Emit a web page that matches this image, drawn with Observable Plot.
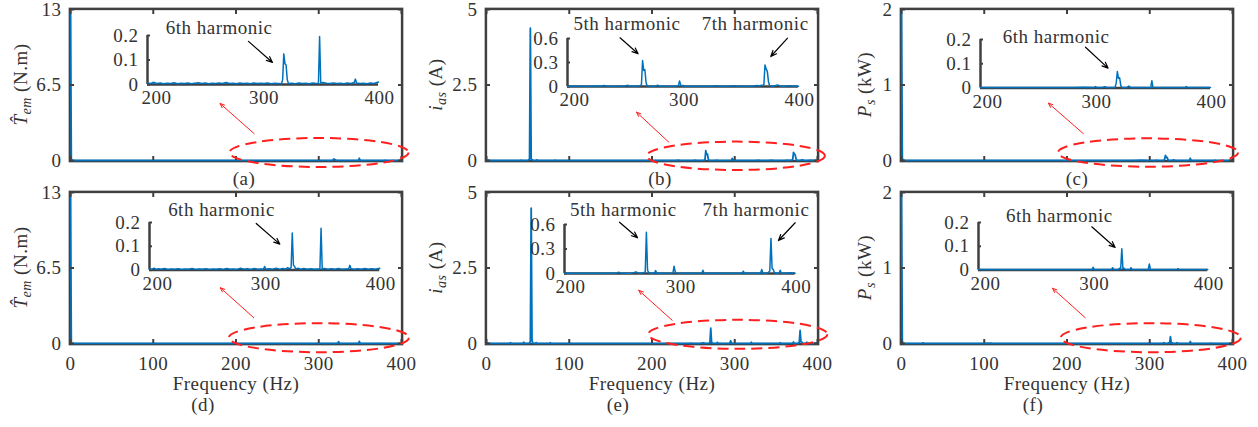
<!DOCTYPE html>
<html><head><meta charset="utf-8">
<script src="https://cdn.jsdelivr.net/npm/d3@7"></script>
<script src="https://cdn.jsdelivr.net/npm/@observablehq/plot@0.6"></script>
<style>
body{margin:0;background:#fff;}
#fig{position:relative;width:1258px;height:427px;overflow:hidden;background:#fff;}
#fig svg{position:absolute;overflow:visible;}
#fig svg, #fig svg text, #fig svg tspan{font-family:"Liberation Serif","DejaVu Serif",serif !important;letter-spacing:0.5px;}
</style></head><body><div id="fig"></div>
<script>
// ---------------- DATA ----------------
// spectra: [frequency (Hz), amplitude]
const torqueSpecA = [
[0,12.9],[1,0.05],[2,0.004],[50,0.004],[100,0.003],[150,0.004],[197,0.004],
[200,0.006],[203,0.004],[205,0.009],[208,0.004],[211,0.006],[214,0.003],[217,0.005],[220,0.004],[223,0.007],[226,0.003],[229,0.005],[232,0.004],[235,0.006],[238,0.003],[241,0.005],[244,0.007],[247,0.004],[250,0.006],[253,0.003],[256,0.005],[259,0.004],[262,0.006],[265,0.004],[268,0.008],[271,0.004],[274,0.005],[277,0.003],[280,0.006],[283,0.004],[286,0.005],[289,0.003],[292,0.006],[295,0.004],[298,0.005],[301,0.004],[304,0.006],[307,0.003],[310,0.005],[313,0.004],[316,0.003],[317,0.02],[318,0.125],[319,0.085],[320,0.08],[321,0.02],[322,0.004],[325,0.005],[328,0.003],[331,0.006],[334,0.004],[337,0.005],[340,0.003],[343,0.006],[346,0.004],[348,0.005],[349,0.196],[350,0.006],[352,0.008],[355,0.005],[358,0.004],[361,0.006],[364,0.004],[367,0.005],[370,0.003],[373,0.006],[376,0.004],[379,0.008],[380,0.022],[381,0.006],[384,0.004],[387,0.005],[390,0.003],[393,0.006],[396,0.004],[400,0.01]
];
const currentSpecB = [
[0,0.002],[10,0.003],[20,0.002],[30,0.004],[41,0.003],[42,0.015],[43,0.003],[50,0.005],[52,0.05],[53,4.38],[54,0.05],[56,0.01],[60,0.005],[61,0.02],[62,0.004],[82,0.004],[83,0.015],[84,0.004],[100,0.003],[125,0.004],[150,0.003],[175,0.004],[197,0.003],
[200,0.004],[204,0.003],[208,0.005],[212,0.003],[216,0.004],[220,0.003],[224,0.005],[228,0.003],[232,0.012],[234,0.004],[238,0.003],[242,0.004],[246,0.003],[250,0.005],[252,0.015],[254,0.004],[258,0.003],[262,0.004],[264,0.02],[265,0.325],[266,0.2],[267,0.21],[268,0.05],[269,0.005],[272,0.003],[276,0.004],[278,0.015],[280,0.004],[284,0.003],[288,0.004],[292,0.003],[296,0.008],[297,0.07],[298,0.02],[299,0.004],[300,0.015],[301,0.004],[305,0.003],[310,0.004],[315,0.003],[320,0.004],[325,0.003],[329,0.01],[331,0.003],[335,0.004],[340,0.003],[345,0.008],[347,0.003],[350,0.004],[355,0.003],[360,0.004],[364,0.012],[366,0.006],[368,0.015],[370,0.02],[371,0.27],[372,0.22],[373,0.19],[374,0.06],[375,0.008],[378,0.004],[382,0.02],[384,0.004],[388,0.003],[392,0.008],[396,0.003],[400,0.004]
];
const powerSpecC = [
[0,1.98],[1,0.03],[2,0.002],[50,0.002],[100,0.002],[150,0.002],[198,0.002],
[200,0.002],[210,0.002],[220,0.002],[230,0.002],[240,0.002],[250,0.002],[260,0.002],[270,0.002],[280,0.002],[290,0.003],[299,0.002],[300,0.006],[301,0.002],[306,0.002],[308,0.005],[310,0.002],[315,0.002],[317,0.003],[318,0.02],[319,0.068],[320,0.04],[321,0.042],[322,0.01],[323,0.002],[327,0.002],[329,0.008],[331,0.002],[340,0.002],[348,0.002],[349,0.03],[350,0.003],[355,0.002],[365,0.002],[370,0.002],[378,0.002],[379,0.006],[380,0.002],[390,0.002],[400,0.002]
];
const torqueSpecD = [
[0,12.95],[1,0.05],[2,0.005],[50,0.004],[100,0.004],[150,0.004],[198,0.004],
[200,0.006],[202,0.004],[204,0.008],[206,0.003],[208,0.006],[210,0.004],[213,0.007],[216,0.003],[219,0.005],[222,0.004],[225,0.006],[228,0.003],[231,0.005],[234,0.004],[237,0.007],[240,0.003],[243,0.005],[246,0.004],[249,0.006],[252,0.003],[255,0.005],[258,0.004],[261,0.006],[264,0.003],[267,0.007],[270,0.004],[273,0.005],[276,0.003],[279,0.008],[282,0.004],[285,0.006],[288,0.003],[291,0.007],[294,0.004],[297,0.005],[299,0.004],[300,0.015],[301,0.004],[304,0.006],[307,0.004],[310,0.008],[313,0.004],[316,0.007],[318,0.004],[320,0.01],[322,0.005],[323,0.012],[324,0.156],[325,0.02],[326,0.015],[327,0.005],[329,0.008],[331,0.004],[334,0.007],[337,0.004],[340,0.006],[343,0.004],[346,0.005],[348,0.004],[349,0.176],[350,0.006],[352,0.007],[355,0.004],[358,0.006],[361,0.004],[364,0.007],[367,0.004],[370,0.005],[373,0.006],[374,0.02],[375,0.006],[378,0.004],[381,0.006],[384,0.004],[387,0.007],[390,0.004],[393,0.006],[396,0.004],[400,0.008]
];
const currentSpecE = [
[0,0.003],[10,0.003],[20,0.004],[28,0.004],[29,0.03],[30,0.004],[40,0.004],[44,0.004],[45,0.04],[46,0.004],[52,0.005],[53,0.08],[54,4.48],[55,0.1],[56,0.01],[59,0.004],[60,0.03],[61,0.004],[70,0.004],[76,0.004],[77,0.025],[78,0.004],[100,0.003],[125,0.003],[150,0.003],[175,0.003],[198,0.003],
[200,0.003],[205,0.004],[210,0.003],[215,0.004],[220,0.003],[225,0.004],[230,0.003],[235,0.004],[240,0.003],[245,0.004],[247,0.015],[249,0.004],[253,0.003],[258,0.004],[262,0.02],[264,0.004],[268,0.005],[270,0.02],[271,0.505],[272,0.04],[273,0.01],[275,0.004],[278,0.004],[279,0.035],[280,0.004],[285,0.003],[290,0.004],[294,0.005],[295,0.09],[296,0.02],[297,0.005],[300,0.004],[305,0.003],[310,0.004],[315,0.003],[319,0.004],[320,0.04],[321,0.004],[325,0.003],[330,0.004],[335,0.003],[340,0.004],[345,0.003],[350,0.004],[354,0.004],[355,0.028],[356,0.004],[360,0.003],[365,0.004],[370,0.004],[371,0.05],[372,0.004],[376,0.005],[378,0.03],[379,0.43],[380,0.06],[381,0.05],[382,0.01],[384,0.004],[386,0.004],[387,0.04],[388,0.004],[392,0.003],[396,0.01],[400,0.004]
];
const powerSpecF = [
[0,1.98],[1,0.03],[2,0.002],[25,0.002],[26,0.008],[27,0.002],[50,0.002],[100,0.002],[108,0.006],[109,0.002],[150,0.002],[198,0.002],
[200,0.002],[210,0.002],[220,0.002],[230,0.002],[240,0.002],[250,0.002],[260,0.002],[270,0.002],[280,0.002],[290,0.002],[299,0.002],[300,0.012],[301,0.002],[310,0.002],[316,0.002],[317,0.01],[318,0.002],[322,0.002],[323,0.008],[324,0.004],[325,0.09],[326,0.006],[327,0.008],[328,0.002],[332,0.002],[333,0.01],[334,0.002],[340,0.002],[348,0.002],[349,0.026],[350,0.002],[360,0.002],[373,0.002],[374,0.006],[375,0.002],[385,0.002],[400,0.002]
];

const panelCaptions = ["(a)","(b)","(c)","(d)","(e)","(f)"];
const xTicks = [0,100,200,300,400];
const insetXTicks = [200,300,400];
const mainYTicks = [[0,6.5,13],[0,2.5,5],[0,1,2],[0,6.5,13],[0,2.5,5],[0,1,2]];
const insetYTicks = [[0,0.1,0.2],[0,0.3,0.6],[0,0.1,0.2],[0,0.1,0.2],[0,0.3,0.6],[0,0.1,0.2]];
const xLabel = "Frequency (Hz)";
// y-axis label pieces: [symbol, subscript, unit]
const yLabelParts = [["T\u0302","em"," (N.m)"],["i","as"," (A)"],["P","s"," (kW)"]];

// annotations (data units of each axes)
const harmonicLabels = [
  [{f:262,v:0.229,text:"6th harmonic"}],
  [{f:251.5,v:0.784,text:"5th harmonic"},{f:362.5,v:0.784,text:"7th harmonic"}],
  [{f:265.7,v:0.21,text:"6th harmonic"}],
  [{f:262.5,v:0.253,text:"6th harmonic"}],
  [{f:251,v:0.784,text:"5th harmonic"},{f:366,v:0.784,text:"7th harmonic"}],
  [{f:270.5,v:0.228,text:"6th harmonic"}]
];
const harmonicArrows = [
  [{f1:287.4,v1:0.176,f2:308.2,v2:0.09}],
  [{f1:245.5,v1:0.609,f2:261.1,v2:0.409},{f1:390.5,v1:0.605,f2:376,v2:0.375}],
  [{f1:291.3,v1:0.168,f2:310.9,v2:0.082}],
  [{f1:292.7,v1:0.196,f2:313.2,v2:0.109}],
  [{f1:247.7,v1:0.628,f2:263.3,v2:0.437},{f1:400,v1:0.621,f2:385.5,v2:0.404}],
  [{f1:298.8,v1:0.182,f2:319.2,v2:0.095}]
];
const zoomArrows = [
  {f1:221.8,v1:2.32,f2:180.7,v2:4.91},
  {f1:220.3,v1:0.606,f2:181.3,v2:1.60},
  {f1:219.9,v1:0.354,f2:177.6,v2:0.759},
  {f1:221.4,v1:2.22,f2:181,v2:4.8},
  {f1:224.4,v1:0.768,f2:184,v2:1.762},
  {f1:222,v1:0.342,f2:182.5,v2:0.731}
];
const zoomEllipses = [
  {f:300.9,v:0.646,rf:108.2,rv:1.248},
  {f:301.9,v:0.139,rf:107.6,rv:0.47},
  {f:298.5,v:0.099,rf:108.8,rv:0.188},
  {f:300.7,v:0.456,rf:108.8,rv:1.248},
  {f:304.3,v:0.288,rf:108.2,rv:0.48},
  {f:301.8,v:0.07,rf:108.8,rv:0.192}
];

// ---------------- LAYOUT / STYLE ----------------
const spectra = [torqueSpecA, currentSpecB, powerSpecC, torqueSpecD, currentSpecE, powerSpecF];
const BLUE = "#0072BD", AX = "#404040", TXT = "#333333", RED = "#ff1f1f";
const FONT = "Liberation Serif";
const FS = "19px";
const fmt = d => String(d);
const colLeft = [69.5, 486, 901], frameW = 331;
const rowTop = [9, 191.5], frameH = 151;
const M = {l:72, r:25, t:12, b:80};
const yLabelOffset = [-43.5, -44, -30];
const captionDx = [8, 8, 10, -33, -34, -34];
const insetBoxes = [
  [147, 35, 231, 49], [566.7, 38, 231, 48], [979.7, 39, 230, 48.5],
  [149, 221.7, 230.3, 47.6], [564.3, 224, 230.7, 49], [978, 221.7, 229.3, 47.6]
];
const inset200Dx = [9, 7, 7, 8, 6, 7];
const IM = {l:45, r:30, t:40, b:30};

const fig = document.getElementById("fig");

function ellipseMark(e) {
  return (index, scales) => {
    const cx = scales.x(e.f), cy = scales.y(e.v);
    const rx = Math.abs(scales.x(e.f + e.rf) - cx), ry = Math.abs(scales.y(e.v + e.rv) - cy);
    return d3.create("svg:ellipse").attr("cx", cx).attr("cy", cy).attr("rx", rx).attr("ry", ry)
      .attr("fill", "none").attr("stroke", RED).attr("stroke-width", 2).attr("stroke-dasharray", "11,6").node();
  };
}

spectra.forEach((spec, i) => {
  const r = Math.floor(i / 3), c = i % 3;
  const L = colLeft[c], T = rowTop[r];
  const data = spec.map(([f, a]) => ({f, a}));
  const yt = mainYTicks[i];
  const bottomRow = r === 1;
  const marks = [
    Plot.frame({stroke: AX, strokeWidth: 2.5, inset: -0.6}),
    Plot.line(data, {x: "f", y: "a", stroke: BLUE, strokeWidth: 1.8}),
    Plot.axisY({anchor: "left", ticks: yt, tickFormat: fmt, tickSize: -4, tickPadding: 13, stroke: AX, strokeWidth: 2, fill: TXT, label: null}),
    Plot.axisY({anchor: "right", ticks: yt, tickSize: -4, stroke: AX, strokeWidth: 2, fill: "none", label: null}),
    Plot.axisX({anchor: "top", ticks: xTicks, tickSize: -4, stroke: AX, strokeWidth: 2, fill: "none", label: null}),
    Plot.axisX({anchor: "bottom", ticks: xTicks, tickFormat: fmt, tickSize: -4, tickPadding: 17, stroke: AX, strokeWidth: 2, fill: bottomRow ? TXT : "none", label: null}),
    Plot.arrow([zoomArrows[i]], {x1: "f1", y1: "v1", x2: "f2", y2: "v2", stroke: RED, strokeWidth: 1, headLength: 7, headAngle: 45}),
    ellipseMark(zoomEllipses[i]),
    Plot.text([panelCaptions[i]], {frameAnchor: "bottom", text: d => d, dy: bottomRow ? 67 : 24, dx: captionDx[i], fill: TXT})
  ];
  if (bottomRow) marks.push(Plot.text([xLabel], {frameAnchor: "bottom", text: d => d, dy: 46.5, fill: TXT}));
  const plot = Plot.plot({
    width: frameW + M.l + M.r, height: frameH + M.t + M.b,
    marginLeft: M.l, marginRight: M.r, marginTop: M.t, marginBottom: M.b,
    style: {fontFamily: FONT, fontSize: FS, color: TXT, background: "transparent", overflow: "visible"},
    x: {domain: [xTicks[0], xTicks[xTicks.length - 1]]},
    y: {domain: [yt[0], yt[yt.length - 1]]},
    marks
  });
  plot.style.left = (L - M.l) + "px";
  plot.style.top = (T - M.t) + "px";
  // y label with italic symbol and subscript
  const [sym, sub, unit] = yLabelParts[c];
  const t = d3.select(plot).append("text")
    .attr("transform", `translate(${M.l + yLabelOffset[c]},${M.t + frameH / 2}) rotate(-90)`)
    .attr("text-anchor", "middle").attr("fill", TXT).attr("font-size", 19);
  t.append("tspan").attr("font-style", "italic").text(sym);
  t.append("tspan").attr("font-style", "italic").attr("font-size", 14).attr("dy", 4).text(sub);
  t.append("tspan").attr("dy", -4).text(unit);
  fig.appendChild(plot);
});

spectra.forEach((spec, i) => {
  const [L, T, W, H] = insetBoxes[i];
  const data = spec.filter(([f]) => f >= insetXTicks[0]).map(([f, a]) => ({f, a}));
  const yt = insetYTicks[i];
  const plot = Plot.plot({
    width: W + IM.l + IM.r, height: H + IM.t + IM.b,
    marginLeft: IM.l, marginRight: IM.r, marginTop: IM.t, marginBottom: IM.b,
    style: {fontFamily: FONT, fontSize: FS, color: TXT, background: "transparent", overflow: "visible"},
    x: {domain: [insetXTicks[0], insetXTicks[insetXTicks.length - 1]]},
    y: {domain: [yt[0], yt[yt.length - 1]]},
    marks: [
      Plot.ruleX([insetXTicks[0]], {stroke: AX, strokeWidth: 2.5}),
      Plot.ruleY([yt[0]], {stroke: AX, strokeWidth: 2.5}),
      Plot.axisY({anchor: "left", ticks: yt, tickFormat: fmt, tickSize: -3, tickPadding: 12, stroke: AX, strokeWidth: 2, fill: TXT, label: null}),
      Plot.axisX({anchor: "bottom", ticks: insetXTicks.slice(0, 1), tickFormat: fmt, tickSize: 0, tickPadding: 6, dx: inset200Dx[i], fill: TXT, label: null}),
      Plot.axisX({anchor: "bottom", ticks: insetXTicks.slice(1), tickFormat: fmt, tickSize: 0, tickPadding: 6, dx: 1, fill: TXT, label: null}),
      Plot.line(data, {x: "f", y: "a", stroke: BLUE, strokeWidth: 1.5}),
      Plot.text(harmonicLabels[i], {x: "f", y: "v", text: "text", fill: TXT}),
      Plot.arrow(harmonicArrows[i], {x1: "f1", y1: "v1", x2: "f2", y2: "v2", stroke: "#000", strokeWidth: 1.2, headLength: 8, headAngle: 45})
    ]
  });
  plot.style.left = (L - IM.l) + "px";
  plot.style.top = (T - IM.t) + "px";
  fig.appendChild(plot);
});
</script></body></html>
